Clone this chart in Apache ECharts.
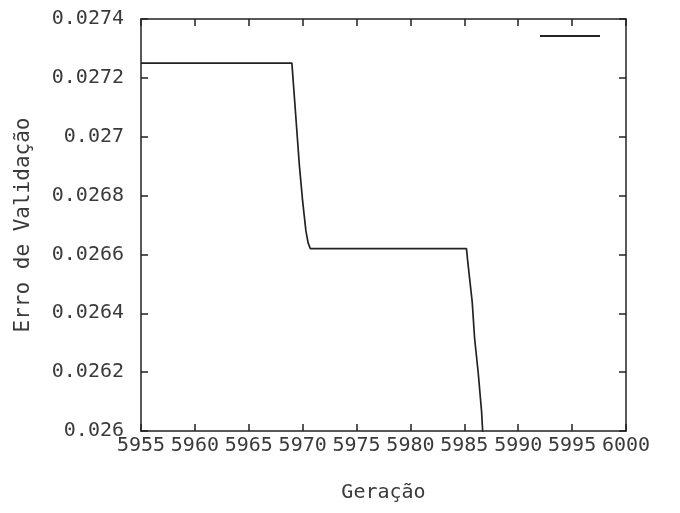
<!DOCTYPE html>
<html>
<head>
<meta charset="utf-8">
<script src="https://cdn.jsdelivr.net/npm/echarts@6/dist/echarts.min.js"></script>
<style>html,body{margin:0;padding:0;background:#fff}#c{width:680px;height:513px}</style>
</head>
<body>
<div id="c"></div>
<script>
const generations = [5955, 5969.0, 5969.1, 5969.3, 5969.5, 5969.7, 5970.0, 5970.3, 5970.5, 5970.7,
  5985.2, 5985.33, 5985.73, 5985.95, 5986.29, 5986.6, 5986.69, 5986.75];
const validationError = [0.02725, 0.02725, 0.02720, 0.02710, 0.02700, 0.02690, 0.02678, 0.02668, 0.02664, 0.02662,
  0.02662, 0.026571, 0.026439, 0.026316, 0.026197, 0.026066, 0.026007, 0.02595];
const xTicks = [5955, 5960, 5965, 5970, 5975, 5980, 5985, 5990, 5995, 6000];
const yTicks = [0.026, 0.0262, 0.0264, 0.0266, 0.0268, 0.027, 0.0272, 0.0274];

const font = 'DejaVu Sans Mono';
const txt = '#3a3a3a';
const ink = '#222';
const seriesData = generations.map((g, i) => [g, validationError[i]]);

const chart = echarts.init(document.getElementById('c'), null, {renderer: 'canvas'});
const baseX = {
  type: 'value', min: xTicks[0], max: xTicks[xTicks.length - 1], interval: 5,
  axisLine: {show: true, onZero: false, lineStyle: {color: ink, width: 1.5}},
  axisTick: {show: true, inside: true, length: 7, lineStyle: {color: ink, width: 1.5}},
  splitLine: {show: false}
};
const baseY = {
  type: 'value', min: yTicks[0], max: yTicks[yTicks.length - 1], interval: 0.0002,
  axisLine: {show: true, onZero: false, lineStyle: {color: ink, width: 1.5}},
  axisTick: {show: true, inside: true, length: 7, lineStyle: {color: ink, width: 1.5}},
  splitLine: {show: false}
};
chart.setOption({
  backgroundColor: '#fff',
  animation: false,
  grid: {left: 141, right: 54, top: 19, bottom: 82},
  legend: {
    data: [{name: 'Erro', icon: 'rect'}],
    formatter: () => '',
    itemWidth: 60, itemHeight: 2,
    left: 535, top: 30,
    textStyle: {fontSize: 1}
  },
  xAxis: [
    Object.assign({}, baseX, {
      position: 'bottom',
      name: 'Geração', nameLocation: 'middle', nameGap: 52,
      nameTextStyle: {fontFamily: font, fontSize: 20, color: txt},
      axisLabel: {fontFamily: font, fontSize: 20, color: txt, margin: 5,
        formatter: v => String(Math.round(v))}
    }),
    Object.assign({}, baseX, {position: 'top', axisLabel: {show: false}})
  ],
  yAxis: [
    Object.assign({}, baseY, {
      position: 'left',
      name: 'Erro de Validação', nameLocation: 'middle', nameGap: 107, nameRotate: 90,
      nameTextStyle: {fontFamily: font, fontSize: 21, color: txt},
      axisLabel: {fontFamily: font, fontSize: 20, color: txt, margin: 17,
        formatter: v => String(parseFloat(v.toFixed(4)))}
    }),
    Object.assign({}, baseY, {position: 'right', axisLabel: {show: false}})
  ],
  series: [{
    name: 'Erro',
    type: 'line',
    data: seriesData,
    showSymbol: false,
    symbol: 'none',
    clip: true,
    lineStyle: {color: ink, width: 1.7},
    itemStyle: {color: ink}
  }]
});
</script>
</body>
</html>
